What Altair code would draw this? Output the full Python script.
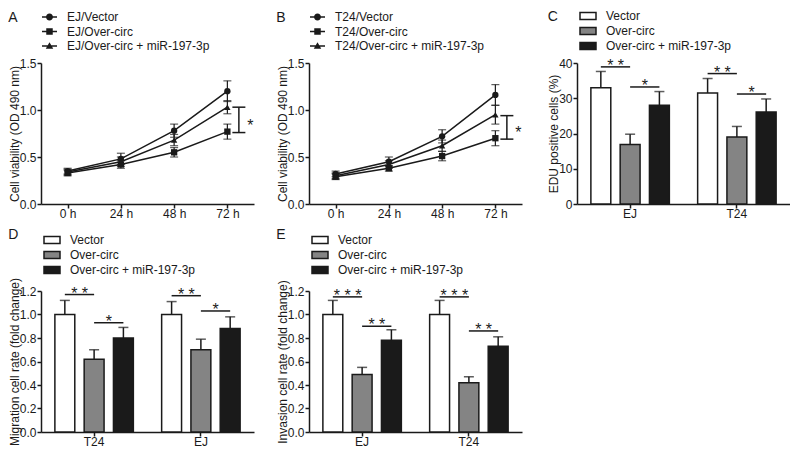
import altair as alt
import pandas as pd

FONT = "Liberation Sans"
INK = "#1a1a1a"
GRAY = "#848484"

# ---------------- data ----------------
times = ["0 h", "24 h", "48 h", "72 h"]

ej_series = ["EJ/Vector", "EJ/Over-circ", "EJ/Over-circ + miR-197-3p"]
ej_vector = [0.35, 0.48, 0.78, 1.20]
ej_vector_err = [0.03, 0.06, 0.07, 0.11]
ej_over = [0.33, 0.42, 0.55, 0.77]
ej_over_err = [0.03, 0.04, 0.05, 0.08]
ej_mir = [0.34, 0.45, 0.68, 1.03]
ej_mir_err = [0.03, 0.05, 0.06, 0.07]
ej_bracket = [0.76, 1.03]

t24_series = ["T24/Vector", "T24/Over-circ", "T24/Over-circ + miR-197-3p"]
t24_vector = [0.32, 0.45, 0.72, 1.16]
t24_vector_err = [0.03, 0.05, 0.07, 0.11]
t24_over = [0.29, 0.38, 0.51, 0.70]
t24_over_err = [0.03, 0.03, 0.05, 0.08]
t24_mir = [0.30, 0.42, 0.62, 0.95]
t24_mir_err = [0.03, 0.04, 0.06, 0.10]
t24_bracket = [0.69, 0.94]

bar_groups = ["Vector", "Over-circ", "Over-circ + miR-197-3p"]
bar_fills = ["white", GRAY, INK]

edu_cells = ["EJ", "T24"]
edu_vector = [33.0, 31.5]
edu_vector_err = [4.6, 4.1]
edu_over = [16.9, 19.0]
edu_over_err = [2.9, 3.0]
edu_mir = [28.0, 26.1]
edu_mir_err = [3.9, 3.7]
edu_sig_cell = ["EJ", "EJ", "T24", "T24"]
edu_sig_from = ["Vector", "Over-circ", "Vector", "Over-circ"]
edu_sig_to = ["Over-circ", "Over-circ + miR-197-3p", "Over-circ", "Over-circ + miR-197-3p"]
edu_sig_level = [38.9, 33.2, 37.0, 31.2]
edu_sig_label = ["**", "*", "**", "*"]

mig_cells = ["T24", "EJ"]
mig_vector = [1.00, 1.00]
mig_vector_err = [0.12, 0.11]
mig_over = [0.62, 0.70]
mig_over_err = [0.08, 0.09]
mig_mir = [0.80, 0.88]
mig_mir_err = [0.09, 0.10]
mig_sig_cell = ["T24", "T24", "EJ", "EJ"]
mig_sig_from = ["Vector", "Over-circ", "Vector", "Over-circ"]
mig_sig_to = ["Over-circ", "Over-circ + miR-197-3p", "Over-circ", "Over-circ + miR-197-3p"]
mig_sig_level = [1.17, 0.93, 1.16, 1.03]
mig_sig_label = ["**", "*", "**", "*"]

inv_cells = ["EJ", "T24"]
inv_vector = [1.00, 1.00]
inv_vector_err = [0.12, 0.12]
inv_over = [0.49, 0.42]
inv_over_err = [0.06, 0.05]
inv_mir = [0.78, 0.73]
inv_mir_err = [0.09, 0.08]
inv_sig_cell = ["EJ", "EJ", "T24", "T24"]
inv_sig_from = ["Vector", "Over-circ", "Vector", "Over-circ"]
inv_sig_to = ["Over-circ", "Over-circ + miR-197-3p", "Over-circ", "Over-circ + miR-197-3p"]
inv_sig_level = [1.15, 0.90, 1.15, 0.86]
inv_sig_label = ["***", "**", "***", "**"]

W, H = 213, 141

# legend glyphs: a filled bar for the connecting line plus the marker (fill only)
LINE_LEGEND_SHAPES = [
    "M-1.5,-0.13H1.5V0.13H-1.5Z M0.7,0A0.7,0.7,0,1,1,-0.7,0A0.7,0.7,0,1,1,0.7,0Z",
    "M-1.5,-0.13H1.5V0.13H-1.5Z M-0.65,-0.65H0.65V0.65H-0.65Z",
    "M-1.5,-0.13H1.5V0.13H-1.5Z M0,-0.75L0.75,0.55H-0.75Z",
]
BAR_LEGEND_SHAPE = "M-1.6,-0.68H1.6V0.68H-1.6Z"


def panel_title(letter, offset):
    return alt.TitleParams(letter, anchor="start", frame="bounds", offset=offset, dx=0,
                           fontSize=14, font=FONT, fontWeight="normal", color=INK)


def line_panel(letter, series, means, errs, bracket, ylab):
    rows = []
    for s, m, e in zip(series, means, errs):
        for t, mv, ev in zip(times, m, e):
            rows.append(dict(time=t, series=s, mean=mv, lo=mv - ev, hi=mv + ev))
    df = pd.DataFrame(rows)
    xs = alt.Scale(type="point", domain=times, padding=0.5)
    ys = alt.Scale(domain=[0, 1.5], nice=False)
    yax = alt.Axis(values=[0, 0.5, 1.0, 1.5], format=".1f", title=ylab)
    xax = alt.Axis(title=None, labelAngle=0)

    def X(f="time"):
        return alt.X(f"{f}:O", scale=xs, axis=xax)

    def Y(f):
        return alt.Y(f"{f}:Q", scale=ys, axis=yax, title=ylab)

    base = alt.Chart(df)
    lines = base.mark_line(color=INK, strokeWidth=1.5).encode(x=X(), y=Y("mean"), detail="series:N")
    err = base.mark_rule(color=INK, strokeWidth=1.2).encode(x=X(), y=Y("lo"), y2="hi:Q")
    cap_lo = base.mark_tick(color=INK, size=8, thickness=1.2).encode(x=X(), y=Y("lo"))
    cap_hi = base.mark_tick(color=INK, size=8, thickness=1.2).encode(x=X(), y=Y("hi"))
    pts = base.mark_point(filled=True, color=INK, size=40, opacity=1).encode(
        x=X(), y=Y("mean"),
        shape=alt.Shape("series:N", scale=alt.Scale(domain=series, range=["circle", "square", "triangle-up"]), legend=None),
    )
    leg = base.mark_point(filled=True, color=INK, opacity=0).encode(
        x=X(), y=Y("mean"),
        shape=alt.Shape("series:N", scale=alt.Scale(domain=series, range=LINE_LEGEND_SHAPES),
                        legend=alt.Legend(orient="none", legendX=2.5, legendY=-52, title=None,
                                          direction="vertical", padding=0,
                                          symbolSize=100, symbolOpacity=1, symbolFillColor=INK,
                                          labelOffset=11.5, rowPadding=0.5,
                                          labelFont=FONT, labelFontSize=12, labelColor=INK)),
    )
    br = pd.DataFrame({"time": [times[-1]], "lo": [bracket[0]], "hi": [bracket[1]],
                       "mid": [(bracket[0] + bracket[1]) / 2], "label": ["*"]})
    bb = alt.Chart(br)
    br_v = bb.mark_rule(color=INK, strokeWidth=1.5, xOffset=11.5).encode(x=X(), y=Y("lo"), y2="hi:Q")
    br_c1 = bb.mark_rule(color=INK, strokeWidth=1.5, xOffset=5, x2Offset=18).encode(
        x=X(), x2="time:O", y=Y("lo"))
    br_c2 = bb.mark_rule(color=INK, strokeWidth=1.5, xOffset=5, x2Offset=18).encode(
        x=X(), x2="time:O", y=Y("hi"))
    br_t = bb.mark_text(color=INK, font=FONT, fontSize=16, dx=23, dy=6, align="center",
                        baseline="middle").encode(x=X(), y=Y("mid"), text="label:N")
    return alt.layer(lines, err, cap_lo, cap_hi, pts, leg, br_v, br_c1, br_c2, br_t).resolve_scale(
        shape="independent").properties(width=W, height=H, title=panel_title(letter, -14))


def bar_panel(letter, cells, vals, errs, sig, ylab, ydom, yvals, yfmt, legend_y, title_off):
    rows = []
    for cond, v, e in zip(bar_groups, vals, errs):
        for c, vv, ee in zip(cells, v, e):
            rows.append(dict(cell=c, cond=cond, mean=vv, hi=vv + ee))
    df = pd.DataFrame(rows)
    xs = alt.Scale(type="band", domain=cells, paddingInner=0.265, paddingOuter=0.13)
    xos = alt.Scale(type="band", domain=bar_groups, paddingInner=0.32, paddingOuter=0)
    ys = alt.Scale(domain=ydom, nice=False)
    yax = alt.Axis(values=yvals, format=yfmt, title=ylab)
    xax = alt.Axis(title=None, labelAngle=0)

    def X():
        return alt.X("cell:N", scale=xs, axis=xax)

    def XO(f="cond"):
        return alt.XOffset(f"{f}:N", scale=xos)

    def Y(f):
        return alt.Y(f"{f}:Q", scale=ys, axis=yax, title=ylab)

    base = alt.Chart(df)
    bars = base.mark_bar(stroke=INK, strokeWidth=1.5).encode(
        x=X(), xOffset=XO(), y=Y("mean"),
        fill=alt.Fill("cond:N", scale=alt.Scale(domain=bar_groups, range=bar_fills),
                      legend=alt.Legend(orient="none", legendX=5, legendY=legend_y, title=None,
                                        direction="vertical", padding=0,
                                        symbolType=BAR_LEGEND_SHAPE, symbolSize=100,
                                        symbolStrokeColor=INK, symbolStrokeWidth=1.5,
                                        labelOffset=12, rowPadding=1,
                                        labelFont=FONT, labelFontSize=12, labelColor=INK)),
    )
    err = base.mark_rule(color=INK, strokeWidth=1.5).encode(x=X(), xOffset=XO(), y=Y("mean"), y2="hi:Q")
    cap = base.mark_tick(color=INK, size=10, thickness=1.5).encode(x=X(), xOffset=XO(), y=Y("hi"))

    cells_s, froms, tos, levels, labels = sig
    srows, trows = [], []
    for i, (c, a, b, lv, lb) in enumerate(zip(cells_s, froms, tos, levels, labels)):
        srows.append(dict(id=i, cell=c, cond=a, level=lv))
        srows.append(dict(id=i, cell=c, cond=b, level=lv))
        trows.append(dict(cell=c, cond=a, level=lv, label=lb))
    sl = alt.Chart(pd.DataFrame(srows)).mark_line(color=INK, strokeWidth=1.5).encode(
        x=X(), xOffset=XO(), y=Y("level"), detail="id:N")
    st = alt.Chart(pd.DataFrame(trows)).transform_calculate(
        shown="join(split(datum.label, ''), ' ')"
    ).mark_text(color=INK, font=FONT, fontSize=16, dx=14.75, dy=4,
                align="center", baseline="alphabetic").encode(
        x=X(), xOffset=XO(), y=Y("level"), text="shown:N")
    return alt.layer(bars, err, cap, sl, st).properties(width=W, height=H, title=panel_title(letter, title_off))


A = line_panel("A", ej_series, [ej_vector, ej_over, ej_mir], [ej_vector_err, ej_over_err, ej_mir_err],
               ej_bracket, "Cell viability (OD 490 nm)")
B = line_panel("B", t24_series, [t24_vector, t24_over, t24_mir], [t24_vector_err, t24_over_err, t24_mir_err],
               t24_bracket, "Cell viability (OD 490 nm)")
C = bar_panel("C", edu_cells, [edu_vector, edu_over, edu_mir], [edu_vector_err, edu_over_err, edu_mir_err],
              (edu_sig_cell, edu_sig_from, edu_sig_to, edu_sig_level, edu_sig_label),
              "EDU positive cells (%)", [0, 40], [0, 10, 20, 30, 40], "d", -53, -14)
D = bar_panel("D", mig_cells, [mig_vector, mig_over, mig_mir], [mig_vector_err, mig_over_err, mig_mir_err],
              (mig_sig_cell, mig_sig_from, mig_sig_to, mig_sig_level, mig_sig_label),
              "Migration cell rate (fold change)", [0, 1.2], [0, 0.2, 0.4, 0.6, 0.8, 1.0, 1.2], ".1f", -57, -8)
E = bar_panel("E", inv_cells, [inv_vector, inv_over, inv_mir], [inv_vector_err, inv_over_err, inv_mir_err],
              (inv_sig_cell, inv_sig_from, inv_sig_to, inv_sig_level, inv_sig_label),
              "Invasion cell rate (fold change)", [0, 1.2], [0, 0.2, 0.4, 0.6, 0.8, 1.0, 1.2], ".1f", -57, -8)

chart = alt.concat(A, B, C, D, E, columns=3, spacing={"row": 87, "column": 55}, bounds="flush").resolve_scale(
    fill="independent", shape="independent"
).resolve_legend(
    fill="independent", shape="independent"
).properties(
    padding={"left": 0, "top": 2, "right": 0, "bottom": 0}
).configure_view(stroke=None).configure_axis(
    domainColor=INK, domainWidth=1.5, tickColor=INK, tickWidth=1.5, tickSize=4,
    labelFont=FONT, labelFontSize=12, labelColor=INK, labelPadding=1,
    titleFont=FONT, titleFontSize=12, titleFontWeight="normal", titleColor=INK, titlePadding=-2,
    grid=False,
).configure_axisX(tickSize=4, labelPadding=0)

chart.save("out.html", embed_options={"renderer": "svg", "actions": False})
